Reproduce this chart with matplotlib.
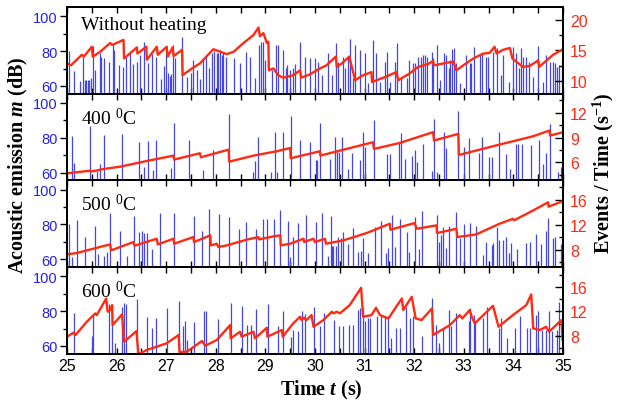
import matplotlib
matplotlib.use('Agg')
import matplotlib.pyplot as plt
from matplotlib.ticker import MultipleLocator

plt.rcParams['font.family'] = ['Liberation Sans', 'DejaVu Sans']
plt.rcParams['mathtext.fontset'] = 'custom'
plt.rcParams['mathtext.rm'] = 'Liberation Serif'
plt.rcParams['mathtext.it'] = 'Liberation Serif:italic:bold'
plt.rcParams['mathtext.bf'] = 'Liberation Serif:bold'

# ---- data ----
# panel 1: without heating
p1_bar_t = [25.05, 25.15, 25.27, 25.32, 25.37, 25.39, 25.42, 25.45, 25.48, 25.52, 25.56, 25.66, 25.68,
            25.75, 25.84, 25.93, 25.95, 26.04, 26.13, 26.19, 26.28, 26.34, 26.42, 26.48, 26.56, 26.64,
            26.72, 26.80, 26.89, 26.96, 26.99, 27.03, 27.07, 27.09, 27.13, 27.17, 27.32, 27.42, 27.50,
            27.55, 27.62, 27.68, 27.75, 27.80, 27.87, 27.92, 27.97, 28.02, 28.05, 28.09, 28.12, 28.15,
            28.21, 28.36, 28.49, 28.61, 28.69, 28.80, 28.87, 28.91, 28.96, 29.00, 29.13, 29.21, 29.26,
            29.35, 29.41, 29.44, 29.50, 29.55, 29.60, 29.70, 29.80, 29.90, 30.00, 30.07, 30.15, 30.26,
            30.35, 30.42, 30.47, 30.56, 30.60, 30.66, 30.70, 30.76, 30.80, 30.91, 31.01, 31.06, 31.16,
            31.24, 31.31, 31.41, 31.46, 31.51, 31.61, 31.66, 31.74, 31.85, 31.90, 31.97, 32.01, 32.08,
            32.13, 32.18, 32.21, 32.25, 32.35, 32.38, 32.45, 32.52, 32.60, 32.64, 32.70, 32.73, 32.77,
            32.80, 32.85, 32.93, 33.05, 33.12, 33.15, 33.20, 33.32, 33.36, 33.44, 33.49, 33.59, 33.66,
            33.75, 33.79, 33.91, 33.99, 34.05, 34.11, 34.16, 34.19, 34.26, 34.32, 34.40, 34.50, 34.60,
            34.66, 34.74, 34.79, 34.83, 34.88, 34.92, 34.97]
p1_bar_db = [80.2, 68.8, 62.9, 76.8, 63.4, 63.4, 63.4, 63.4, 64.4, 83.0, 69.1, 78.7, 76.8,
             75.8, 73.9, 84.4, 80.6, 72.0, 71.0, 76.8, 79.6, 72.6, 73.9, 77.7, 85.3, 73.0,
             78.1, 76.8, 64.0, 71.4, 83.0, 67.2, 65.9, 66.9, 83.2, 75.8, 88.2, 65.3, 67.6,
             74.9, 69.1, 63.8, 75.2, 76.4, 70.1, 79.0, 80.2, 79.0, 78.7, 80.6, 77.7, 79.6,
             76.8, 75.8, 73.3, 79.6, 76.4, 64.4, 83.4, 85.3, 85.3, 74.9, 69.1, 83.4, 83.4,
             80.6, 70.1, 72.0, 69.1, 70.1, 72.4, 85.3, 76.4, 75.8, 75.8, 73.9, 66.3, 78.7,
             66.3, 84.4, 73.9, 76.4, 70.1, 75.8, 87.2, 64.4, 83.4, 80.6, 78.7, 61.5, 86.3,
             78.7, 62.5, 73.9, 79.6, 62.5, 73.9, 84.8, 65.3, 64.4, 74.9, 73.0, 73.0, 76.4,
             76.8, 77.7, 77.7, 76.8, 79.6, 75.8, 83.4, 63.4, 78.7, 77.7, 70.1, 74.9, 81.1,
             81.5, 73.0, 61.5, 77.7, 73.0, 73.0, 82.5, 78.3, 78.3, 76.8, 76.8, 79.6, 81.5,
             66.3, 77.7, 62.5, 82.5, 78.7, 70.1, 81.5, 76.8, 76.8, 73.9, 65.3, 83.0, 62.5,
             77.7, 73.9, 73.9, 73.0, 71.0, 72.0, 75.2]
p1_line_t = [25.00, 25.08, 25.30, 25.34, 25.50, 25.52, 25.67, 25.87, 25.91, 26.14, 26.15, 26.41, 26.42,
             26.60, 26.61, 26.81, 26.83, 27.01, 27.03, 27.13, 27.15, 27.32, 27.33, 27.52, 27.68, 27.95,
             28.09, 28.22, 28.36, 28.56, 28.76, 28.86, 28.89, 28.96, 29.03, 29.06, 29.07, 29.16, 29.26,
             29.36, 29.56, 29.70, 29.72, 29.90, 30.10, 30.23, 30.42, 30.44, 30.54, 30.69, 30.81, 30.97,
             31.14, 31.15, 31.44, 31.64, 31.68, 31.91, 32.08, 32.28, 32.38, 32.40, 32.65, 32.79, 32.85,
             32.99, 33.19, 33.39, 33.52, 33.62, 33.66, 33.79, 33.93, 33.98, 34.19, 34.33, 34.50, 34.52,
             34.80, 35.00]
p1_line_rate = [12.9, 12.6, 14.3, 14.0, 15.6, 14.0, 14.8, 16.2, 15.9, 16.7, 13.7, 15.5, 14.5,
                15.6, 13.5, 15.6, 14.3, 15.6, 14.0, 15.5, 14.1, 15.1, 11.0, 12.1, 12.9, 15.2,
                14.8, 14.4, 14.8, 16.2, 17.5, 18.7, 17.3, 17.8, 16.2, 16.4, 11.8, 12.1, 11.0,
                10.6, 11.0, 11.8, 10.6, 11.15, 12.1, 12.6, 14.0, 12.35, 12.9, 14.0, 10.2, 11.0,
                11.5, 9.9, 10.8, 11.5, 10.2, 11.3, 12.35, 12.8, 13.3, 12.6, 13.0, 13.2, 11.8,
                12.6, 13.7, 14.5, 14.6, 15.6, 14.5, 15.1, 15.4, 13.7, 12.35, 12.5, 13.4, 12.35,
                14.3, 15.2]

# panel 2: 400 C
p2_bar_t = [25.10, 25.15, 25.46, 25.60, 25.66, 25.75, 26.11, 26.46, 26.56, 26.64, 26.74, 26.80, 27.10,
            27.15, 27.45, 27.75, 27.95, 28.26, 28.76, 28.80, 28.86, 29.11, 29.19, 29.24, 29.35, 29.51,
            29.70, 29.90, 30.02, 30.05, 30.11, 30.30, 30.40, 30.45, 30.49, 30.54, 30.66, 30.75, 30.91,
            30.96, 31.01, 31.19, 31.46, 31.51, 31.70, 31.73, 31.81, 31.95, 32.01, 32.06, 32.18, 32.35,
            32.40, 32.45, 32.60, 32.65, 32.89, 33.01, 33.11, 33.31, 33.36, 33.51, 33.56, 33.71, 33.85,
            33.93, 34.06, 34.09, 34.18, 34.35, 34.52, 34.60, 34.65, 34.74, 34.90, 34.95]
p2_bar_db = [81.0, 65.6, 86.8, 60.8, 64.7, 81.6, 81.9, 77.7, 63.1, 78.1, 61.7, 78.6, 62.7,
             88.3, 78.6, 61.7, 73.2, 93.6, 60.2, 66.6, 80.6, 60.6, 83.5, 60.6, 83.5, 92.2,
             78.6, 77.3, 67.0, 67.0, 88.3, 68.0, 80.6, 72.8, 71.8, 80.6, 62.1, 71.5, 67.0,
             83.1, 74.8, 90.3, 70.9, 70.9, 77.5, 82.9, 67.6, 69.5, 73.2, 66.0, 76.7, 61.2,
             90.7, 60.2, 83.1, 74.2, 95.1, 74.8, 79.6, 71.5, 80.6, 68.9, 68.9, 83.1, 70.9,
             62.1, 76.3, 76.3, 76.7, 75.7, 78.6, 64.7, 71.3, 88.0, 60.2, 63.1]
p2_line_t = [25.00, 25.47, 25.48, 25.74, 26.07, 26.48, 26.88, 27.15, 27.16, 27.68, 27.70, 28.26, 28.27,
             28.76, 29.23, 29.50, 29.51, 29.70, 30.10, 30.11, 30.50, 31.17, 31.19, 31.71, 32.38, 32.40,
             32.89, 32.90, 33.72, 34.40, 34.73, 34.74, 35.00]
p2_line_rate = [4.66, 4.99, 4.87, 5.19, 5.47, 6.0, 6.49, 6.81, 6.33, 7.1, 6.61, 7.54, 6.08,
                6.81, 7.34, 7.74, 6.49, 6.77, 7.34, 6.81, 7.42, 8.43, 7.62, 8.35, 9.65, 8.64,
                9.45, 6.89, 8.15, 9.16, 9.85, 9.24, 9.65]

# panel 3: 500 C
p3_bar_t = [25.05, 25.10, 25.21, 25.37, 25.57, 25.62, 25.75, 25.81, 25.87, 26.07, 26.21, 26.36, 26.46,
            26.52, 26.56, 26.61, 26.71, 26.87, 27.15, 27.56, 27.73, 27.87, 28.07, 28.27, 28.46, 28.61,
            28.81, 28.96, 29.03, 29.17, 29.30, 29.46, 29.50, 29.56, 29.65, 29.81, 30.02, 30.15, 30.26,
            30.32, 30.34, 30.37, 30.42, 30.47, 30.52, 30.56, 30.66, 30.76, 30.87, 30.92, 30.96, 31.07,
            31.21, 31.34, 31.43, 31.48, 31.56, 31.61, 31.71, 31.85, 31.90, 32.01, 32.10, 32.16, 32.45,
            32.50, 32.55, 32.58, 32.65, 32.70, 32.85, 32.92, 33.01, 33.12, 33.25, 33.39, 33.44, 33.56,
            33.59, 33.66, 33.71, 33.80, 33.86, 33.91, 33.96, 34.07, 34.26, 34.33, 34.46, 34.56, 34.65,
            34.70, 34.80, 34.83, 34.95]
p3_bar_db = [80.0, 61.1, 82.5, 73.0, 79.2, 63.0, 61.9, 64.4, 86.7, 76.2, 61.9, 85.0, 75.8,
             76.4, 75.2, 75.2, 65.7, 86.7, 86.7, 85.1, 76.4, 88.6, 86.1, 84.0, 77.1, 81.5,
             77.1, 83.2, 83.2, 83.4, 88.2, 81.9, 61.5, 72.6, 81.1, 85.3, 81.5, 86.3, 61.9,
             84.8, 67.6, 67.6, 67.6, 72.6, 72.0, 75.8, 68.6, 78.1, 64.4, 65.0, 72.0, 63.8,
             78.7, 81.9, 63.4, 66.3, 85.3, 67.2, 83.0, 75.8, 64.4, 84.4, 65.7, 87.8, 85.3,
             70.1, 73.9, 78.7, 66.3, 79.0, 87.2, 72.0, 80.0, 81.0, 79.2, 62.5, 70.1, 68.2,
             69.1, 78.7, 71.0, 71.0, 72.6, 63.4, 69.1, 65.7, 69.1, 70.1, 74.3, 68.6, 76.2,
             83.8, 72.0, 73.0, 68.6]
p3_line_t = [25.00, 25.20, 25.40, 25.87, 25.89, 26.34, 26.36, 26.81, 26.83, 27.15, 27.16, 27.55, 27.56,
             27.89, 27.90, 28.02, 28.05, 28.22, 28.62, 28.86, 28.87, 29.03, 29.16, 29.30, 29.31, 29.50,
             29.77, 29.78, 29.97, 30.00, 30.20, 30.22, 30.57, 31.04, 31.51, 31.52, 32.01, 32.05, 32.45,
             32.46, 32.85, 32.87, 33.25, 33.72, 33.99, 34.01, 34.40, 34.70, 34.71, 35.00]
p3_line_rate = [7.25, 7.47, 7.89, 8.85, 7.89, 9.23, 8.64, 9.76, 8.85, 9.76, 8.96, 10.03, 9.23,
                10.3, 8.69, 8.96, 8.43, 8.69, 9.6, 10.03, 9.65, 9.92, 10.13, 10.3, 8.69, 8.96,
                9.76, 9.23, 9.76, 9.23, 9.76, 8.96, 9.49, 10.67, 12.16, 11.2, 12.27, 11.36, 11.9,
                10.67, 11.36, 10.03, 10.45, 12.16, 12.96, 12.7, 14.3, 15.6, 14.9, 15.8]

# panel 4: 600 C
p4_bar_t = [25.15, 25.50, 25.52, 25.85, 25.91, 25.97, 26.11, 26.14, 26.19, 26.41, 26.61, 26.71, 26.80,
            27.01, 27.26, 27.33, 27.37, 27.42, 27.56, 27.77, 27.81, 28.05, 28.31, 28.52, 28.62, 28.70,
            28.81, 29.06, 29.25, 29.36, 29.51, 29.56, 29.65, 29.73, 29.80, 29.97, 30.10, 30.18, 30.38,
            30.49, 30.57, 30.69, 30.76, 30.87, 30.91, 30.96, 31.01, 31.06, 31.11, 31.25, 31.34, 31.41,
            31.48, 31.54, 31.64, 31.71, 31.83, 31.91, 31.98, 32.15, 32.36, 32.44, 32.50, 32.58, 32.70,
            32.75, 32.85, 33.11, 33.13, 33.20, 33.22, 33.39, 33.47, 33.71, 33.76, 33.87, 34.03, 34.13,
            34.28, 34.33, 34.46, 34.50, 34.58, 34.66, 34.72, 34.78, 34.87, 34.91]
p4_bar_db = [79.2, 65.7, 77.9, 84.0, 83.6, 61.5, 82.6, 84.5, 84.2, 86.8, 76.6, 70.4, 76.0,
             81.7, 85.8, 71.3, 74.5, 63.2, 73.6, 79.8, 79.8, 75.5, 84.5, 83.0, 72.3, 71.9,
             81.1, 84.0, 71.3, 80.2, 65.1, 69.1, 68.5, 79.8, 78.3, 82.6, 71.3, 78.9, 75.1,
             71.7, 71.7, 72.3, 72.3, 80.8, 81.7, 81.7, 74.2, 76.0, 76.0, 77.0, 77.0, 77.0,
             77.0, 64.7, 70.4, 70.4, 82.6, 76.0, 77.0, 65.7, 87.4, 72.3, 61.9, 70.4, 80.8,
             71.3, 78.9, 74.2, 81.7, 77.9, 74.2, 76.0, 82.1, 70.4, 76.0, 64.7, 70.4, 77.0,
             70.4, 70.4, 77.9, 79.8, 69.4, 69.4, 79.8, 68.5, 69.4, 85.5]
p4_line_t = [25.00, 25.13, 25.17, 25.40, 25.57, 25.60, 25.79, 25.82, 25.87, 25.91, 25.92, 26.11, 26.15,
             26.31, 26.40, 26.44, 26.61, 26.81, 27.01, 27.25, 27.27, 27.42, 27.72, 27.79, 28.02, 28.29,
             28.30, 28.49, 28.52, 28.76, 28.79, 29.03, 29.04, 29.33, 29.35, 29.56, 29.70, 29.73, 29.77,
             29.83, 29.93, 29.97, 30.17, 30.34, 30.37, 30.44, 30.50, 30.70, 30.93, 30.97, 31.14, 31.23,
             31.31, 31.48, 31.75, 31.78, 31.95, 32.03, 32.15, 32.36, 32.38, 32.72, 32.92, 32.97, 33.12,
             33.16, 33.22, 33.59, 33.70, 33.99, 34.26, 34.36, 34.40, 34.53, 34.66, 34.72, 34.97, 34.99]
p4_line_rate = [7.89, 8.54, 8.16, 10.32, 11.68, 11.4, 14.1, 11.95, 12.22, 13.03, 9.78, 11.51, 7.08,
                8.16, 8.81, 5.03, 5.73, 6.27, 6.81, 8.16, 5.35, 5.46, 7.19, 6.43, 7.35, 9.78,
                7.62, 8.7, 7.89, 8.7, 7.62, 9.35, 7.89, 8.97, 7.89, 10.05, 11.14, 10.6, 10.97,
                10.6, 11.4, 9.5, 10.6, 11.95, 11.68, 11.95, 11.68, 13.03, 15.84, 11.14, 11.4, 12.6,
                11.4, 10.86, 14.1, 12.22, 14.38, 10.86, 10.6, 12.49, 8.16, 9.78, 11.4, 10.86, 12.22,
                11.14, 10.05, 12.92, 9.51, 11.4, 13.03, 14.76, 9.24, 8.97, 9.51, 8.7, 10.6, 7.35]

panel_labels = ['Without heating', r'400 $^\mathrm{0}$C', r'500 $^\mathrm{0}$C', r'600 $^\mathrm{0}$C']
rate_lims = [(8, 22), (3.8, 14.3), (5.2, 19.1), (5.1, 19.2)]
rate_ticks = [[10, 15, 20], [6, 9, 12], [8, 12, 16], [8, 12, 16]]
rate_minor = [2.5, 1.5, 2, 2]

bars = [(p1_bar_t, p1_bar_db), (p2_bar_t, p2_bar_db), (p3_bar_t, p3_bar_db), (p4_bar_t, p4_bar_db)]
lines = [(p1_line_t, p1_line_rate), (p2_line_t, p2_line_rate),
         (p3_line_t, p3_line_rate), (p4_line_t, p4_line_rate)]

BLUE = '#4646e0'
BLUE_TXT = '#2323e6'
RED = '#ff2a14'
SERIF = 'Liberation Serif'

fig, axes = plt.subplots(4, 1, sharex=True, figsize=(6.18, 4.06), dpi=100,
                         gridspec_kw={'hspace': 0})
fig.subplots_adjust(left=0.1084, right=0.911, top=0.980, bottom=0.126)

for i, ax in enumerate(axes):
    bt, bdb = bars[i]
    ax.vlines(bt, 50, bdb, color=BLUE, lw=0.9)
    ax.set_ylim(55.5, 105.2)
    ax.set_xlim(25, 35)
    ax.set_yticks([60, 80, 100])
    ax.yaxis.set_minor_locator(MultipleLocator(10))
    ax.xaxis.set_major_locator(MultipleLocator(1))
    ax.xaxis.set_minor_locator(MultipleLocator(0.5))
    ax.tick_params(axis='y', which='both', direction='out', colors='black',
                   labelcolor=BLUE_TXT, labelsize=10.5, pad=1.5, width=1)
    ax.tick_params(axis='y', which='major', length=5)
    ax.tick_params(axis='y', which='minor', length=3)
    ax.tick_params(axis='x', which='both', direction='in', top=True, length=4,
                   width=1, labelsize=11.5, pad=3)
    for s in ax.spines.values():
        s.set_linewidth(1.4)

    ax2 = ax.twinx()
    lt, lr = lines[i]
    ax2.plot(lt, lr, color=RED, lw=1.7)
    ax2.set_ylim(*rate_lims[i])
    ax2.set_yticks(rate_ticks[i])
    ax2.yaxis.set_minor_locator(MultipleLocator(rate_minor[i]))
    ax2.tick_params(axis='y', which='both', direction='in', labelcolor=RED,
                    labelsize=11.5, pad=5, width=1)
    ax2.tick_params(axis='y', which='major', length=6)
    ax2.tick_params(axis='y', which='minor', length=3)
    for s in ax2.spines.values():
        s.set_linewidth(1.4)

    ax.text(0.028, 0.80 if i == 0 else 0.73, panel_labels[i], transform=ax.transAxes,
            fontsize=14, family=SERIF, va='center', ha='left', zorder=5)

fig.text(0.03, 0.594, r'Acoustic emission $\it{m}$ (dB)', rotation=90, ha='center', va='center',
         fontsize=14.5, family=SERIF, fontweight='bold')
fig.text(0.976, 0.574, r'Events / Time (s$^{\mathbf{-1}}$)', rotation=90, ha='center', va='center',
         fontsize=14.5, family=SERIF, fontweight='bold')
fig.text(0.52, 0.038, r'Time $\it{t}$ (s)', ha='center', va='center',
         fontsize=14.5, family=SERIF, fontweight='bold')

fig.savefig('out.png', dpi=100)
